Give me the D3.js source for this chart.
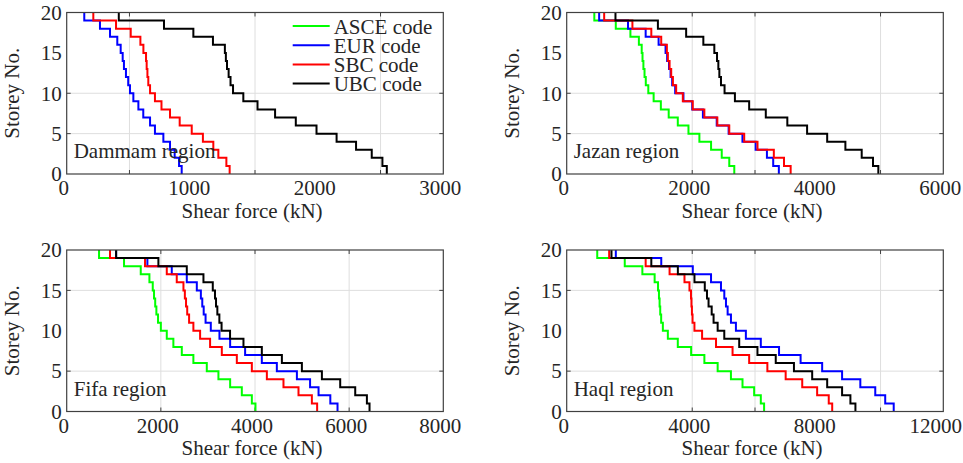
<!DOCTYPE html>
<html>
<head>
<meta charset="utf-8">
<script src="https://cdn.jsdelivr.net/npm/d3@7"></script>
<style>
  body { margin: 0; background: #fff; }
  svg text { font-family: "Liberation Serif", "DejaVu Serif", serif; fill: #262626; font-size: 21px; }
</style>
</head>
<body>
<div id="chart"></div>
<script>
// storey numbers (1..20), shear force values listed from storey 1 up to storey 20
var storeys = [1,2,3,4,5,6,7,8,9,10,11,12,13,14,15,16,17,18,19,20];
var codes = ["ASCE code", "EUR code", "SBC code", "UBC code"];
var colors = ["#00ff00", "#0000ff", "#ff0000", "#000000"];

// Dammam region (no ASCE curve shown)
var dammamASCE = null;
var dammamEUR = [916, 895, 860, 823, 770, 703, 664, 610, 571, 531, 504, 490, 472, 456, 446, 430, 403, 345, 265, 140];
var dammamSBC = [1298, 1272, 1208, 1168, 1085, 996, 900, 823, 755, 703, 664, 650, 643, 637, 632, 611, 587, 510, 393, 212];
var dammamUBC = [2550, 2515, 2430, 2305, 2150, 1990, 1825, 1660, 1520, 1407, 1325, 1305, 1290, 1277, 1268, 1260, 1165, 1009, 775, 415];

// Jazan region
var jazanASCE = [2670, 2590, 2470, 2300, 2114, 1940, 1770, 1625, 1500, 1385, 1300, 1260, 1240, 1222, 1208, 1195, 1150, 1015, 782, 440];
var jazanEUR = [3380, 3290, 3190, 3010, 2800, 2580, 2390, 2170, 2000, 1860, 1728, 1680, 1655, 1630, 1600, 1575, 1464, 1258, 977, 517];
var jazanSBC = [3568, 3462, 3300, 3040, 2828, 2590, 2400, 2193, 2008, 1850, 1744, 1692, 1665, 1639, 1612, 1596, 1506, 1348, 1047, 597];
var jazanUBC = [4965, 4880, 4700, 4440, 4150, 3830, 3515, 3172, 2907, 2680, 2515, 2458, 2432, 2416, 2395, 2352, 2177, 1903, 1453, 777];

// Fifa region
var fifaASCE = [4010, 3933, 3720, 3472, 3223, 2976, 2691, 2445, 2266, 2126, 2000, 1940, 1905, 1880, 1855, 1828, 1757, 1573, 1218, 687];
var fifaEUR = [5753, 5600, 5350, 5170, 4890, 4464, 4145, 3790, 3472, 3245, 3061, 2950, 2910, 2880, 2850, 2764, 2551, 2232, 1714, 1050];
var fifaSBC = [5320, 5208, 4924, 4605, 4252, 3933, 3614, 3295, 3046, 2834, 2691, 2600, 2560, 2535, 2510, 2480, 2338, 2126, 1664, 920];
var fifaUBC = [6433, 6377, 6129, 5810, 5421, 4996, 4571, 4145, 3755, 3470, 3290, 3243, 3200, 3172, 3150, 3103, 2905, 2551, 1948, 1050];

// Haql region
var haqlASCE = [6290, 6185, 5973, 5602, 5233, 4810, 4387, 3965, 3540, 3223, 3064, 3010, 2980, 2960, 2940, 2910, 2802, 2411, 1850, 973];
var haqlEUR = [10420, 10149, 9832, 9356, 8775, 8140, 7453, 6766, 6185, 5709, 5392, 5234, 5128, 5075, 5022, 4916, 4599, 4018, 3013, 1565];
var haqlSBC = [8460, 8350, 7980, 7505, 6977, 6394, 5814, 5285, 4758, 4314, 4070, 4010, 3990, 3975, 3960, 3912, 3753, 3278, 2516, 1353];
var haqlUBC = [9200, 9040, 8775, 8300, 7822, 7241, 6661, 6078, 5497, 5021, 4810, 4680, 4620, 4520, 4470, 4400, 4071, 3542, 2696, 1427];

// axis ticks
var yTicks = [0, 5, 10, 15, 20];
var dammamTicks = [0, 1000, 2000, 3000];
var jazanTicks = [0, 2000, 4000, 6000];
var fifaTicks = [0, 2000, 4000, 6000, 8000];
var haqlTicks = [0, 4000, 8000, 12000];
var dammamGrid = [500, 1500, 2500];
var jazanGrid = [2000, 3000, 5000];
var fifaGrid = [2000, 4000, 6000];
var haqlGrid = [4000, 6000, 10000];

var svgWidth = 963, svgHeight = 463;
var font = "'Liberation Serif', 'DejaVu Serif', serif";

var svg = d3.select("#chart")
  .append("svg")
  .attr("width", svgWidth)
  .attr("height", svgHeight);

var panels = [
  {name: "Dammam region", left: 66.7, top: 12.5, max: 3000, ticks: dammamTicks, grid: dammamGrid, yGrid: [5, 10],
   series: [dammamASCE, dammamEUR, dammamSBC, dammamUBC], legend: true},
  {name: "Jazan region", left: 566.7, top: 12.5, max: 6000, ticks: jazanTicks, grid: jazanGrid, yGrid: [5, 10],
   series: [jazanASCE, jazanEUR, jazanSBC, jazanUBC]},
  {name: "Fifa region", left: 66.7, top: 250, max: 8000, ticks: fifaTicks, grid: fifaGrid, yGrid: [5, 15],
   series: [fifaASCE, fifaEUR, fifaSBC, fifaUBC]},
  {name: "Haql region", left: 566.7, top: 250, max: 12000, ticks: haqlTicks, grid: haqlGrid, yGrid: [5, 15],
   series: [haqlASCE, haqlEUR, haqlSBC, haqlUBC]}
];

var width = 376.6, height = 161.5;

panels.forEach(function(p) {
  var g = svg.append("g").attr("transform", `translate(${p.left}, ${p.top})`);

  var x = d3.scaleLinear().domain([0, p.max]).range([0, width]);
  var y = d3.scaleLinear().domain([0, 20]).range([height, 0]);

  // grid lines
  g.selectAll(".vgrid").data(p.grid).enter().append("line")
    .attr("x1", d => x(d)).attr("x2", d => x(d))
    .attr("y1", 0).attr("y2", height)
    .attr("stroke", "#dedede").attr("stroke-width", 1);
  g.selectAll(".hgrid").data(p.yGrid).enter().append("line")
    .attr("x1", 0).attr("x2", width)
    .attr("y1", d => y(d)).attr("y2", d => y(d))
    .attr("stroke", "#dedede").attr("stroke-width", 1);

  // small inward ticks at grid positions
  p.grid.forEach(function(v) {
    g.append("line").attr("x1", x(v)).attr("x2", x(v)).attr("y1", height).attr("y2", height - 4)
      .attr("stroke", "#404040");
    g.append("line").attr("x1", x(v)).attr("x2", x(v)).attr("y1", 0).attr("y2", 4)
      .attr("stroke", "#404040");
  });
  p.yGrid.forEach(function(v) {
    g.append("line").attr("x1", 0).attr("x2", 4).attr("y1", y(v)).attr("y2", y(v))
      .attr("stroke", "#404040");
    g.append("line").attr("x1", width).attr("x2", width - 4).attr("y1", y(v)).attr("y2", y(v))
      .attr("stroke", "#404040");
  });

  // step lines
  var line = d3.line().x(d => x(d[0])).y(d => y(d[1]));
  p.series.forEach(function(vals, i) {
    if (!vals) return;
    var pts = [];
    storeys.forEach(function(s, k) {
      pts.push([vals[k], s - 1]);
      pts.push([vals[k], s]);
    });
    g.append("path")
      .datum(pts)
      .attr("d", line)
      .attr("fill", "none")
      .attr("stroke", colors[i])
      .attr("stroke-width", 2);
  });

  // axes box
  g.append("rect")
    .attr("width", width).attr("height", height)
    .attr("fill", "none").attr("stroke", "#404040").attr("stroke-width", 1.2);

  // tick labels (kept inside the page on the right)
  g.selectAll(".xlab").data(p.ticks).enter().append("text")
    .attr("x", d => x(d) - 3).attr("y", height + 21)
    .attr("text-anchor", "middle")
    .attr("font-family", font)
    .text(d => d)
    .each(function() {
      var bb = this.getBBox();
      var over = p.left + bb.x + bb.width - (svgWidth - 1);
      if (over > 0) d3.select(this).attr("x", +d3.select(this).attr("x") - over);
    });
  g.selectAll(".ylab").data(yTicks).enter().append("text")
    .attr("x", -5).attr("y", d => y(d)).attr("dy", "0.35em")
    .attr("text-anchor", "end")
    .attr("font-family", font)
    .text(d => d);

  // axis titles
  g.append("text")
    .attr("x", width / 2 - 3).attr("y", height + 43.5)
    .attr("text-anchor", "middle")
    .attr("font-family", font)
    .text("Shear force (kN)");
  g.append("text")
    .attr("transform", `translate(-48, ${height / 2}) rotate(-90)`)
    .attr("text-anchor", "middle")
    .attr("font-family", font)
    .text("Storey No.");

  // region label
  g.append("text")
    .attr("x", 7).attr("y", height - 16)
    .attr("font-family", font)
    .text(p.name);

  // legend
  if (p.legend) {
    codes.forEach(function(c, i) {
      var ly = 13.5 + i * 19.2;
      g.append("line")
        .attr("x1", 226).attr("x2", 263)
        .attr("y1", ly).attr("y2", ly)
        .attr("stroke", colors[i]).attr("stroke-width", 2);
      g.append("text")
        .attr("x", 267).attr("y", ly + 7.5)
        .attr("font-family", font)
        .text(c);
    });
  }
});
</script>
</body>
</html>
